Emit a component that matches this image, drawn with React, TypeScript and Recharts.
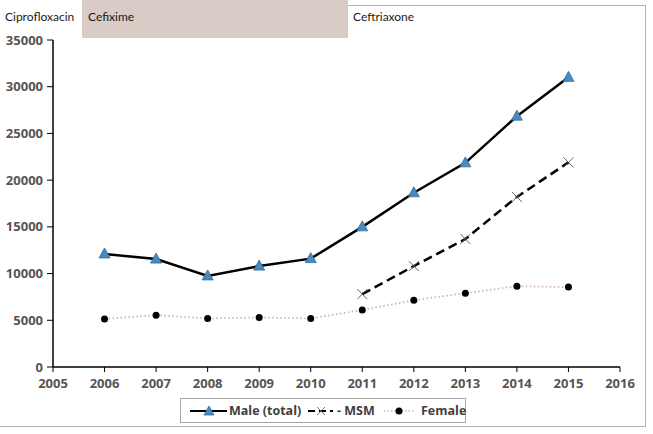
import React from "react"
import { LineChart, Line, XAxis, YAxis } from "recharts"

const years = [2006, 2007, 2008, 2009, 2010, 2011, 2012, 2013, 2014, 2015]
const maleTotal = [12100, 11550, 9750, 10800, 11600, 15000, 18650, 21850, 26850, 31000]
const msm: (number | null)[] = [null, null, null, null, null, 7800, 10800, 13700, 18200, 21900]
const female = [5150, 5550, 5200, 5300, 5200, 6100, 7150, 7900, 8650, 8550]

const xTicks = [2005, 2006, 2007, 2008, 2009, 2010, 2011, 2012, 2013, 2014, 2015, 2016]
const yTicks = [0, 5000, 10000, 15000, 20000, 25000, 30000, 35000]

const FONT = "Lato, 'Open Sans', sans-serif"
const BOLD_FONT = "'Open Sans', 'Noto Sans', sans-serif"
const TICK_COLOR = "#555555"

const chartData = years.map((y, i) => ({
  year: y,
  male: maleTotal[i],
  msm: msm[i],
  female: female[i],
}))

const Triangle = (props: any) => {
  const { cx, cy, key } = props
  if (cx == null || cy == null) return <g key={key} />
  return (
    <path
      key={key}
      d={`M${cx},${cy - 6} L${cx + 5.5},${cy + 4} L${cx - 5.5},${cy + 4} Z`}
      fill="#4a8ac0"
      stroke="#2f6b9c"
      strokeWidth={0.8}
    />
  )
}

const Cross = (props: any) => {
  const { cx, cy, key } = props
  if (cx == null || cy == null) return <g key={key} />
  return (
    <g key={key} stroke="#555" strokeWidth={0.9}>
      <line x1={cx - 5} y1={cy - 5} x2={cx + 5} y2={cy + 5} />
      <line x1={cx - 5} y1={cy + 5} x2={cx + 5} y2={cy - 5} />
    </g>
  )
}

const Dot = (props: any) => {
  const { cx, cy, key } = props
  if (cx == null || cy == null) return <g key={key} />
  return <circle key={key} cx={cx} cy={cy} r={3.5} fill="#000" />
}

const legendText: React.CSSProperties = {
  position: "absolute",
  top: 3,
  fontWeight: 700,
  fontSize: 12.5,
  color: "#404040",
  whiteSpace: "nowrap",
  lineHeight: "17px",
  fontFamily: BOLD_FONT,
}

function LegendBox() {
  return (
    <div
      style={{
        position: "absolute",
        left: 180,
        top: 398,
        width: 286,
        height: 25,
        border: "1px solid #a6a6a6",
        boxSizing: "border-box",
        background: "#fff",
      }}
    >
      <svg width={284} height={23} style={{ position: "absolute", left: 0, top: 0 }}>
        <line x1={9} y1={12} x2={46} y2={12} stroke="#000" strokeWidth={2} />
        <path d="M28,7 L33,16 L23,16 Z" fill="#4a8ac0" stroke="#2f6b9c" strokeWidth={0.8} />
        <line x1={127} y1={12} x2={152} y2={12} stroke="#000" strokeWidth={2} strokeDasharray="7 4" />
        <line x1={136} y1={8} x2={144} y2={16} stroke="#555" strokeWidth={0.8} />
        <line x1={136} y1={16} x2={144} y2={8} stroke="#555" strokeWidth={0.8} />
        <line x1={203} y1={12} x2={234} y2={12} stroke="#d4b3b3" strokeWidth={1.5} strokeDasharray="1.5 2" />
        <circle cx={218} cy={12} r={3.5} fill="#000" />
      </svg>
      <span style={{ ...legendText, left: 48 }}>Male (total)</span>
      <span style={{ ...legendText, left: 156 }}>- MSM</span>
      <span style={{ ...legendText, left: 240 }}>Female</span>
    </div>
  )
}

export default function App() {
  return (
    <div style={{ position: "fixed", left: 0, top: 0, width: 653, height: 434, background: "#fff", fontFamily: FONT }}>
      {/* outer chart border */}
      <div style={{ position: "absolute", left: 348, top: 5, width: 297, height: 0, borderTop: "1.5px solid #b4b4b4" }} />
      <div style={{ position: "absolute", left: 645, top: 5, width: 0, height: 421, borderLeft: "1.5px solid #b4b4b4" }} />
      <div style={{ position: "absolute", left: 0, top: 426, width: 646, height: 0, borderTop: "1.5px solid #b4b4b4" }} />

      {/* treatment periods */}
      <div style={{ position: "absolute", left: 82, top: 0, width: 266, height: 38, background: "#d9cbc6" }} />
      <div style={{ position: "absolute", left: 5, top: 9, fontSize: 12, color: "#1a1a1a" }}>Ciprofloxacin</div>
      <div style={{ position: "absolute", left: 88, top: 9, fontSize: 12, color: "#1a1a1a" }}>Cefixime</div>
      <div style={{ position: "absolute", left: 353, top: 9, fontSize: 12, color: "#1a1a1a" }}>Ceftriaxone</div>

      <div style={{ position: "absolute", left: 0, top: 0 }}>
        <LineChart width={653} height={434} data={chartData} margin={{ top: 40, right: 33, left: 0, bottom: 37 }}>
          <XAxis
            dataKey="year"
            type="number"
            domain={[2005, 2016]}
            ticks={xTicks}
            interval={0}
            height={30}
            axisLine={{ stroke: "#000", strokeWidth: 1.5 }}
            tickLine={{ stroke: "#000", strokeWidth: 1 }}
            tickSize={5}
            tickMargin={7}
            tick={{ fill: TICK_COLOR, fontSize: 13, fontWeight: 700, fontFamily: BOLD_FONT }}
          />
          <YAxis
            type="number"
            domain={[0, 35000]}
            ticks={yTicks}
            interval={0}
            width={53}
            axisLine={{ stroke: "#000", strokeWidth: 1.5 }}
            tickLine={{ stroke: "#000", strokeWidth: 1 }}
            tickSize={6}
            tickMargin={4}
            tick={{ fill: TICK_COLOR, fontSize: 13, fontWeight: 700, fontFamily: BOLD_FONT }}
          />
          <Line
            dataKey="female"
            stroke="#d4b3b3"
            strokeWidth={1.8}
            strokeDasharray="1.5 2.5"
            dot={Dot}
            isAnimationActive={false}
          />
          <Line
            dataKey="msm"
            stroke="#000"
            strokeWidth={2.5}
            strokeDasharray="9 5"
            dot={Cross}
            isAnimationActive={false}
          />
          <Line dataKey="male" stroke="#000" strokeWidth={2.5} dot={Triangle} isAnimationActive={false} />
        </LineChart>
      </div>

      <LegendBox />
    </div>
  )
}
